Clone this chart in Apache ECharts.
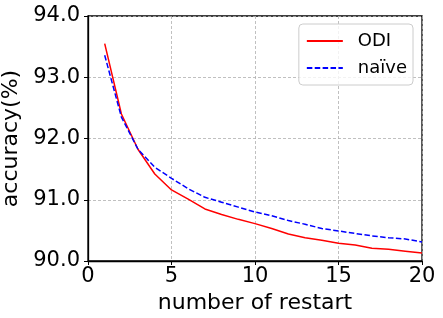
<!DOCTYPE html>
<html><head><meta charset="utf-8">
<script src="https://cdn.jsdelivr.net/npm/echarts@6/dist/echarts.min.js"></script>
<style>html,body{margin:0;padding:0;background:#fff}#c{width:443px;height:318px}</style>
</head><body><div id="c"></div>
<script>
var restarts = [1,2,3,4,5,6,7,8,9,10,11,12,13,14,15,16,17,18,19,20];
var odi   = [93.55,92.40,91.82,91.42,91.16,91.01,90.85,90.76,90.68,90.61,90.53,90.44,90.38,90.34,90.29,90.26,90.21,90.19,90.16,90.13];
var naive = [93.36,92.35,91.82,91.53,91.35,91.18,91.04,90.96,90.88,90.80,90.74,90.66,90.60,90.53,90.49,90.45,90.41,90.38,90.36,90.31];
var seriesNames = ['ODI','naïve'];
var font = 'DejaVu Sans';
var chart = echarts.init(document.getElementById('c'), null, {renderer:'canvas'});
function pairs(v){return restarts.map(function(x,i){return [x,v[i]];});}
chart.setOption({
  animation:false,
  grid:{left:88,right:21,top:16,bottom:57,containLabel:false,outerBoundsMode:'none',show:true,borderColor:'#000',borderWidth:1.3,backgroundColor:'transparent'},
  legend:{
    right:30,top:24,orient:'vertical',itemWidth:36,itemHeight:10,itemGap:9,
    padding:[8,6,8,7],borderColor:'#ccc',borderWidth:1,borderRadius:4,backgroundColor:'rgba(255,255,255,0.8)',
    itemStyle:{color:'transparent',borderWidth:0,opacity:0},
    textStyle:{fontFamily:font,fontSize:18,color:'#000',padding:[0,0,0,10]},
    data:[{name:'ODI'},{name:'naïve'}]
  },
  xAxis:{type:'value',min:0,max:20,interval:5,
    name:'number of restart',nameLocation:'middle',nameGap:28,
    nameTextStyle:{fontFamily:font,fontSize:22,color:'#000'},
    axisLine:{show:true,lineStyle:{color:'#000',width:1.3}},
    axisTick:{show:true,inside:false,length:4,lineStyle:{color:'#000'}},
    axisLabel:{fontFamily:font,fontSize:21,color:'#000',margin:5},
    splitLine:{show:true,lineStyle:{color:'#b0b0b0',type:[3,2],width:0.8}}
  },
  yAxis:{type:'value',min:90,max:94,interval:1,
    name:'accuracy(%)',nameLocation:'middle',nameGap:56,
    nameTextStyle:{fontFamily:font,fontSize:22,color:'#000'},
    axisLine:{show:true,lineStyle:{color:'#000',width:1.3}},
    axisTick:{show:true,inside:false,length:4,lineStyle:{color:'#000'}},
    axisLabel:{fontFamily:font,fontSize:21,color:'#000',margin:8,formatter:function(v){return v.toFixed(1);}},
    splitLine:{show:true,lineStyle:{color:'#b0b0b0',type:[3,2],width:0.8}}
  },
  series:[
    {name:seriesNames[0],type:'line',data:pairs(odi),symbol:'none',lineStyle:{color:'#ff0000',width:1.5},itemStyle:{color:'#ff0000'}},
    {name:seriesNames[1],type:'line',data:pairs(naive),symbol:'none',lineStyle:{color:'#0000ff',width:1.5,type:[5.5,2.4]},itemStyle:{color:'#0000ff'}}
  ]
});
</script></body></html>
